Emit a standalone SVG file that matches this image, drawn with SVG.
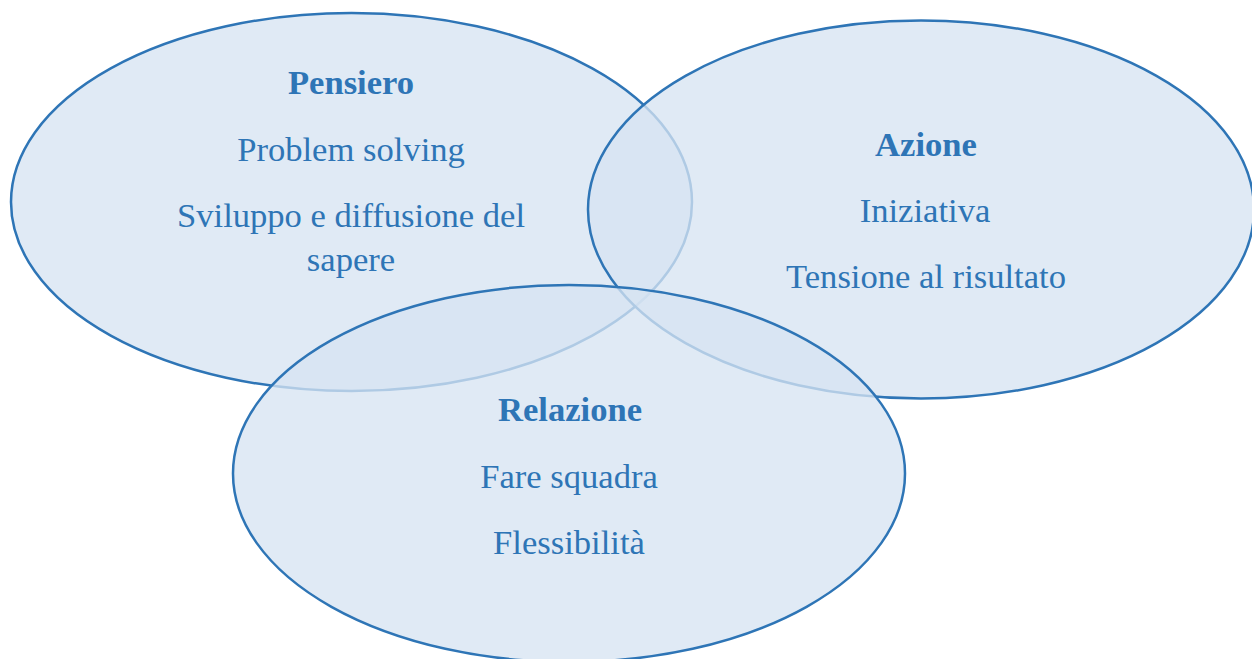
<svg xmlns="http://www.w3.org/2000/svg" width="1252" height="659" viewBox="0 0 1252 659">
<style>
.e{fill:#d7e4f2;fill-opacity:0.77;stroke:#2e75b6;stroke-width:2.5}
text{font-family:"Liberation Serif","Times New Roman",serif;font-size:34.6px;fill:#2e75b6;text-anchor:middle}
.t{font-weight:bold}
</style>
<rect width="1252" height="659" fill="#ffffff"/>
<g id="pensiero">
<ellipse class="e" cx="351.5" cy="202" rx="340.5" ry="189"/>
</g>
<g id="azione">
<ellipse class="e" cx="921" cy="209.5" rx="333" ry="189"/>
</g>
<g id="relazione">
<ellipse class="e" cx="569" cy="473.5" rx="336" ry="188.5"/>
</g>
<g id="labels">
<text class="t" x="351" y="94">Pensiero</text>
<text x="351" y="161">Problem solving</text>
<text x="351" y="227">Sviluppo e diffusione del</text>
<text x="351" y="271">sapere</text>
<text class="t" x="926" y="156">Azione</text>
<text x="925" y="222">Iniziativa</text>
<text x="926" y="288">Tensione al risultato</text>
<text class="t" x="570" y="421">Relazione</text>
<text x="569" y="488">Fare squadra</text>
<text x="569" y="554">Flessibilità</text>
</g>
</svg>
